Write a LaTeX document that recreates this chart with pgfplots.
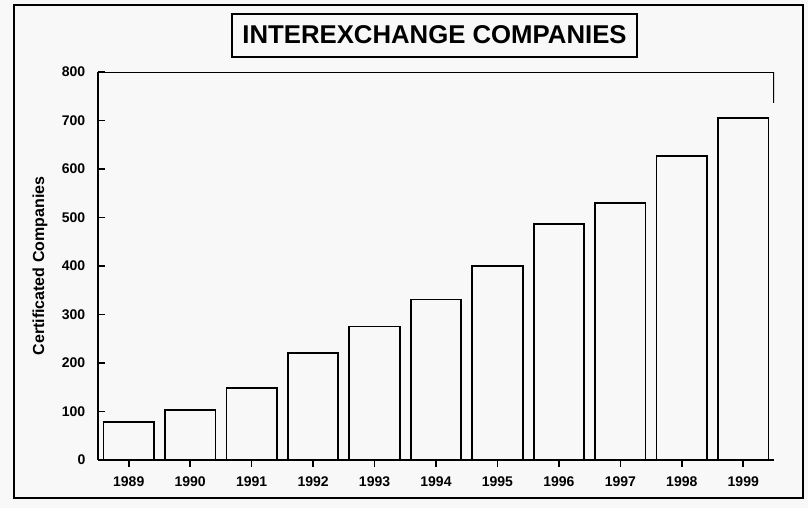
\documentclass[border=0pt]{standalone}
\usepackage{pgfplots}
\pgfplotsset{compat=1.18}
\usepackage{fontspec}
\setmainfont{Liberation Sans}
\definecolor{bg}{RGB}{248,248,248}
\begin{document}
\begin{tikzpicture}
\fill[bg] (0pt,0pt) rectangle (606pt,381pt);
\path[use as bounding box] (0pt,0pt) rectangle (606pt,381pt);
\draw[line width=1.3pt] (10.5pt,7.5pt) rectangle (602.25pt,377.25pt);
\draw[line width=1pt] (174pt,338.25pt) rectangle (477.75pt,370.5pt);
\node[font=\fontsize{19.3}{21}\selectfont\bfseries] at (325.9pt,354.75pt) {INTEREXCHANGE COMPANIES};
\begin{axis}[
  at={(73.5pt,36pt)}, anchor=south west,
  scale only axis, width=507pt, height=291pt,
  xmin=-0.5, xmax=10.5, ymin=0, ymax=800,
  axis x line*=bottom, axis y line*=left,
  axis line style={-, line width=1.2pt},
  ytick={0,100,...,800},
  xtick={0,...,10},
  xticklabels={1989,1990,1991,1992,1993,1994,1995,1996,1997,1998,1999},
  tick align=inside, major tick length=5pt,
  tick style={line width=1.2pt, black},
  /pgf/number format/assume math mode=true,
  ticklabel style={font=\fontsize{10.5}{12}\selectfont\bfseries},
  xticklabel style={yshift=-4pt},
  yticklabel style={xshift=-6pt},
  ylabel={Certificated Companies},
  every axis y label/.style={at={(axis description cs:-0.0858,0.5)}, anchor=center, rotate=90, font=\fontsize{12}{14}\selectfont\bfseries},
  ybar, bar width=0.82,
]
\addplot[draw=black, fill=none, line width=1.3pt] coordinates {
  (0,79) (1,103) (2,149) (3,221) (4,275) (5,331) (6,400) (7,486) (8,530) (9,627) (10,705)
};
\draw[line width=1.2pt] (rel axis cs:0,1) -- (rel axis cs:1,1) -- (rel axis cs:1,0.92);
\end{axis}
\end{tikzpicture}
\end{document}
